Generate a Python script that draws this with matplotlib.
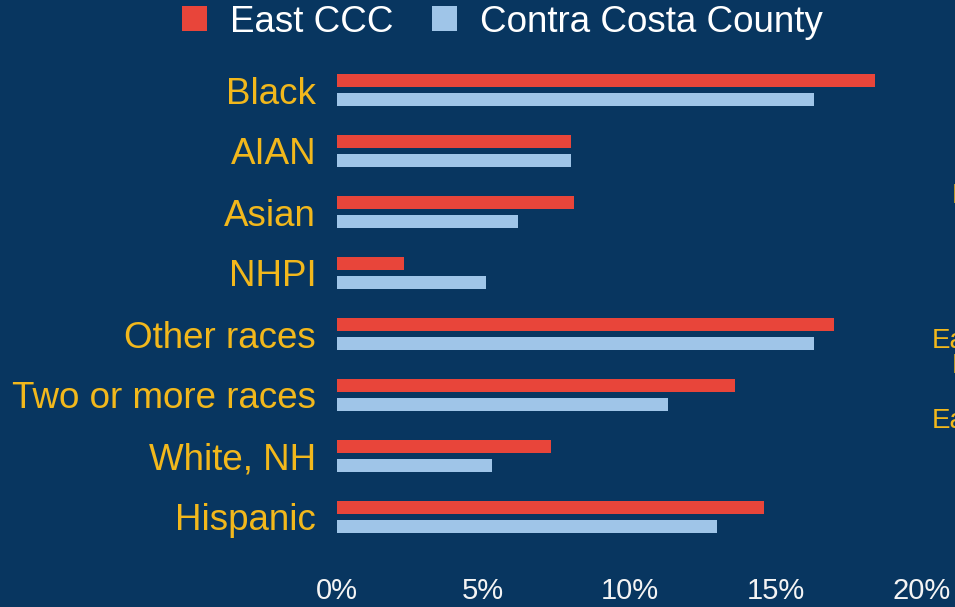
import matplotlib
matplotlib.use("Agg")
import matplotlib.pyplot as plt
from matplotlib.patches import Patch
import numpy as np

plt.rcParams['font.family'] = ['Liberation Sans', 'DejaVu Sans']

categories = ["Black", "AIAN", "Asian", "NHPI", "Other races",
              "Two or more races", "White, NH", "Hispanic"]
east_ccc = [18.4, 8.0, 8.1, 2.3, 17.0, 13.6, 7.3, 14.6]
contra_costa = [16.3, 8.0, 6.2, 5.1, 16.3, 11.3, 5.3, 13.0]
series_names = ["East CCC", "Contra Costa County"]
xticks = [0, 5, 10, 15, 20]

bg = "#083660"
red = "#e8453a"
blue = "#9fc5e8"
gold = "#f2b81c"

W, H = 955, 607
fig = plt.figure(figsize=(W / 100, H / 100), dpi=100, facecolor=bg)
# axes placed in pixel terms: x from 337 to right edge, y from 59.5 to 547.5
ax = fig.add_axes([337 / W, 1 - 547.5 / H, (W - 337) / W, 488 / H])
ax.set_facecolor(bg)

y = np.arange(len(categories))
off = 0.156
h = 0.215
ax.barh(y - off, east_ccc, height=h, color=red)
ax.barh(y + off, contra_costa, height=h, color=blue)

ax.set_xlim(0, (W - 337) / 29.25)
ax.set_ylim(len(categories) - 0.5, -0.5)
ax.set_yticks(y)
ax.set_yticklabels(categories, color=gold, fontsize=26.5)
ax.set_xticks(xticks)
ax.set_xticklabels([f"{t}%" for t in xticks], color="#f4f4f4", fontsize=21)
ax.tick_params(axis='y', length=0, pad=15)
ax.tick_params(axis='x', length=0, pad=21)
for s in ax.spines.values():
    s.set_visible(False)

handles = [Patch(facecolor=red, edgecolor='none'), Patch(facecolor=blue, edgecolor='none')]
fig.legend(handles, series_names, loc='center', bbox_to_anchor=(502 / W, 1 - 22 / H),
           ncol=2, frameon=False, fontsize=26.5, labelcolor='white',
           handlelength=0.68, handleheight=0.68, handletextpad=0.62, columnspacing=1.05)

# labels of a neighbouring panel, cut off at the right edge
side = [(952, 196), (932, 341), (952, 366), (932, 421)]
for sx, sy in side:
    fig.text(sx / W, 1 - sy / H, "East", color=gold, fontsize=20, ha='left', va='center')

fig.savefig("out.png", dpi=100, facecolor=bg)
